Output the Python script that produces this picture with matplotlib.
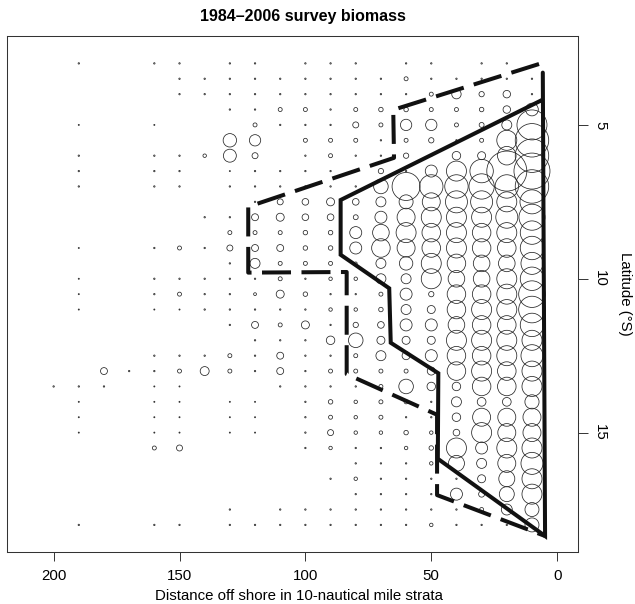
import numpy as np
import matplotlib
matplotlib.use("Agg")
import matplotlib.pyplot as plt

plt.rcParams['font.family'] = ['Liberation Sans', 'DejaVu Sans']

# Offshore strata (10 n.mi. bins) and latitude rows (degrees S)
distance = [200, 190, 180, 170, 160, 150, 140, 130, 120, 110,
            100, 90, 80, 70, 60, 50, 40, 30, 20, 10]
latitude = [3.0, 3.5, 4.0, 4.5, 5.0, 5.5, 6.0, 6.5, 7.0, 7.5, 8.0, 8.5, 9.0,
            9.5, 10.0, 10.5, 11.0, 11.5, 12.0, 12.5, 13.0, 13.5, 14.0, 14.5,
            15.0, 15.5, 16.0, 16.5, 17.0, 17.5, 18.0]

# Mean survey biomass index per cell (circle area is proportional)
biomass = [
    [0, .5, 0, 0, .5, .5, 0, .5, .5, 0, .5, .5, .5, 0, .5, .5, 0, .5, .5, 0],
    [0, 0, 0, 0, 0, .5, .5, .5, .5, .5, .5, .5, .5, .5, 4, .5, .5, .5, .5, .5],
    [0, 0, 0, 0, 0, .5, .5, .5, .5, .5, .5, .5, .5, .5, .5, 4, 22, 7, 14, .5],
    [0, 0, 0, 0, 0, 0, 0, .5, .5, 4, 4, .5, 4, 5, 5, 4, 4, 5, 14, 40],
    [0, .3, 0, 0, .3, 0, 0, 0, 4, .5, .5, .5, 9, 4, 32, 32, 4, 6, 25, 225],
    [0, 0, 0, 0, 0, 0, 0, 45, 32, 0, 4, 4, 4, .5, 4, 7, .5, 4, 100, 280],
    [0, .5, 0, 0, .5, .5, 3, 42, 9, 0, .5, 4, .5, .5, 7, .5, 18, 16, 86, 280],
    [0, .5, 0, 0, .5, .5, 0, .3, .5, .5, .5, .5, .5, 7, .5, 36, 100, 137, 400, 324],
    [0, .5, 0, 0, .5, .5, 0, .5, .5, .5, .5, .5, .5, 53, 196, 137, 137, 160, 137, 280],
    [0, 0, 0, 0, 0, 0, 0, 0, .5, 9, 11, 16, 11, 25, 49, 81, 121, 121, 100, 144],
    [0, 0, 0, 0, 0, 0, .5, .5, 12, 16, 11, 11, 6, 36, 81, 100, 100, 100, 121, 169],
    [0, 0, 0, 0, 0, 0, 0, 4, 4, 4, 5, 5, 36, 69, 100, 86, 100, 86, 100, 137],
    [0, .3, 0, 0, .5, 4, .5, 9, 12, 12, 5, 5, 36, 86, 81, 86, 100, 86, 86, 137],
    [0, 0, 0, 0, 0, 0, 0, .5, 25, 4, 4, 4, 2, 25, 45, 100, 86, 69, 69, 121],
    [0, .3, 0, 0, .5, .5, .5, .5, .5, 4, .5, 3, 3, 25, 25, 100, 69, 69, 100, 137],
    [0, .3, 0, 0, .5, 4, .5, .5, 2, 16, 5, .5, .5, 4, 36, 7, 86, 86, 100, 177],
    [0, .3, 0, 0, .3, .3, .5, .5, .5, .5, .5, 3, 3, 5, 25, 16, 86, 100, 100, 177],
    [0, 0, 0, 0, 0, 0, 0, .5, 12, 4, 16, .5, 7, 11, 36, 36, 69, 86, 86, 137],
    [0, 0, 0, 0, 0, 0, 0, 0, .5, .5, .5, 18, 53, 16, 16, 16, 100, 100, 100, 100],
    [0, 0, 0, 0, .5, .5, .5, 4, .5, 12, .5, .5, 4, 25, 16, 36, 86, 86, 100, 121],
    [0, 0, 12, .5, .5, 4, 20, 4, .5, 12, .5, 4, 4, 4, 4, 16, 86, 100, 86, 100],
    [.5, .5, .5, 0, .3, .3, 0, 0, 0, .5, .5, .5, .5, 4, 53, 18, 18, 86, 86, 100],
    [0, .3, 0, 0, .3, .3, 0, .3, .3, 0, .5, 5, 3, 4, 4, .5, 25, 19, 19, 50],
    [0, .3, 0, 0, .3, .3, 0, .3, .3, 0, .5, 4, 3, 4, .5, .5, 18, 81, 81, 81],
    [0, .3, 0, 0, .3, .3, 0, .3, .3, 0, .5, 9, 3, 3, 5, 3, 11, 100, 81, 81],
    [0, 0, 0, 0, 4, 9, 0, 0, 0, 0, .5, 3, .5, .5, 3, 5, 100, 36, 100, 100],
    [0, 0, 0, 0, 0, 0, 0, 0, 0, 0, 0, 0, .5, .5, .5, 3, 64, 25, 81, 121],
    [0, 0, 0, 0, 0, 0, 0, 0, 0, 0, 0, .5, 3, .5, .5, .5, .5, 16, 64, 100],
    [0, 0, 0, 0, 0, 0, 0, 0, 0, 0, 0, 0, .5, .5, .5, .5, 36, 9, 56, 100],
    [0, 0, 0, 0, 0, 0, 0, .5, 0, .5, .5, .5, .5, .5, .5, .5, .5, 4, 30, 49],
    [0, .5, 0, 0, .5, .5, 0, .5, .5, .5, .5, .5, .5, .5, .5, 3, .5, .5, .5, 49],
]

# Core habitat boundary (solid) and extended boundary (dashed)
core_dist = [6.0, 86.0, 86.0, 66.7, 66.1, 47.2, 47.4, 4.8, 5.7]
core_lat = [4.19, 7.44, 9.22, 10.31, 12.08, 13.07, 15.85, 18.36, 3.30]
ext_dist = [7.2, 65.1, 64.8, 122.7, 122.7, 83.6, 83.6, 47.7, 47.7, 4.8]
ext_lat = [3.02, 4.51, 6.07, 7.66, 9.80, 9.78, 13.10, 14.42, 17.03, 18.36]

fig = plt.figure(figsize=(6.35, 6.04), dpi=100)
ax = fig.add_axes([7.3 / 635, 1 - 552.3 / 604, 571.0 / 635, 516.3 / 604])

X, Y = np.meshgrid(distance, latitude)
B = np.array(biomass, dtype=float)
m = B > 0
radius_pt = np.sqrt(B[m]) * 0.72
ax.scatter(X[m], Y[m], s=(2 * radius_pt) ** 2, facecolors='none',
           edgecolors='#262626', linewidths=0.55, zorder=2)

ax.plot(core_dist, core_lat, color='#111111', lw=2.9,
        solid_capstyle='round', solid_joinstyle='miter', zorder=3)
ax.plot(ext_dist, ext_lat, color='#111111', lw=2.9, linestyle=(0, (7.2, 2.6)),
        dash_capstyle='butt', zorder=3)

ax.set_xlim(218.4, -8.4)
ax.set_ylim(18.89, 2.11)
ax.set_xticks([200, 150, 100, 50, 0])
ax.set_yticks([5, 10, 15])
ax.yaxis.tick_right()
ax.tick_params(axis='x', length=6.8, width=0.7, pad=5, labelsize=10.8,
               color='#333333')
ax.tick_params(axis='y', length=7.2, width=0.7, pad=3.5, labelsize=10.8,
               labelrotation=-90, color='#333333')
for lab in ax.get_yticklabels():
    lab.set_va('center')
for sp in ax.spines.values():
    sp.set_linewidth(0.75)
    sp.set_color('#333333')

ax.set_xlabel('Distance off shore in 10-nautical mile strata', fontsize=10.8)
ax.xaxis.label.set_va('center')
ax.xaxis.set_label_coords(0.51, -0.084)
ax.yaxis.set_label_position('right')
ax.set_ylabel('Latitude (°S)', rotation=-90, fontsize=10.8, va='center')
ax.yaxis.set_label_coords(1.082, 0.5)

fig.text(303 / 635, 1 - 17 / 604, '1984–2006 survey biomass',
         ha='center', va='center', fontsize=11.5, fontweight='bold')

fig.savefig('out.png', dpi=100)
